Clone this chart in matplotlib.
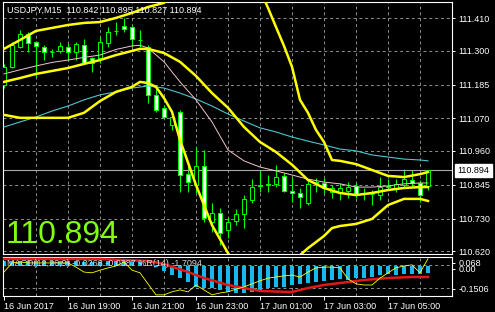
import matplotlib
matplotlib.use('Agg')
import matplotlib.pyplot as plt
import matplotlib.transforms as mtransforms

plt.rcParams['font.family'] = ['Liberation Sans', 'DejaVu Sans']

# ---------------- data ----------------
opens = [111.184, 111.245, 111.313, 111.357, 111.330, 111.313, 111.296, 111.299, 111.313, 111.296,
         111.319, 111.275, 111.275, 111.326, 111.367, 111.384, 111.380, 111.336, 111.313, 111.150,
         111.105, 111.048, 111.092, 110.881, 110.844, 110.909, 110.718, 110.749, 110.691, 110.722,
         110.746, 110.793, 110.842, 110.845, 110.847, 110.875, 110.824, 110.817, 110.783, 110.851,
         110.851, 110.820, 110.817, 110.824, 110.841, 110.812, 110.815, 110.810, 110.839, 110.834,
         110.844, 110.861, 110.851, 110.842]
highs = [111.255, 111.330, 111.370, 111.363, 111.332, 111.319, 111.306, 111.330, 111.326, 111.330,
         111.340, 111.279, 111.347, 111.380, 111.397, 111.411, 111.387, 111.370, 111.319, 111.184,
         111.115, 111.099, 111.099, 110.912, 110.973, 110.963, 110.783, 110.766, 110.735, 110.763,
         110.810, 110.864, 110.895, 110.878, 110.912, 110.885, 110.871, 110.834, 110.861, 110.868,
         110.868, 110.844, 110.851, 110.854, 110.851, 110.834, 110.827, 110.871, 110.864, 110.864,
         110.899, 110.895, 110.861, 110.895]
lows = [111.174, 111.242, 111.309, 111.296, 111.211, 111.268, 111.279, 111.292, 111.268, 111.268,
        111.258, 111.228, 111.258, 111.313, 111.353, 111.363, 111.313, 111.313, 111.122, 111.092,
        111.072, 111.031, 110.820, 110.820, 110.817, 110.718, 110.684, 110.640, 110.664, 110.708,
        110.698, 110.783, 110.820, 110.820, 110.837, 110.820, 110.786, 110.766, 110.776, 110.820,
        110.817, 110.800, 110.793, 110.800, 110.800, 110.793, 110.776, 110.793, 110.827, 110.820,
        110.834, 110.837, 110.786, 110.827]
closes = [111.245, 111.319, 111.357, 111.326, 111.316, 111.296, 111.297, 111.316, 111.296, 111.323,
          111.258, 111.258, 111.330, 111.363, 111.367, 111.374, 111.340, 111.337, 111.150, 111.099,
          111.075, 111.075, 110.878, 110.854, 110.909, 110.732, 110.749, 110.681, 110.718, 110.746,
          110.796, 110.837, 110.845, 110.848, 110.871, 110.824, 110.817, 110.803, 110.847, 110.853,
          110.834, 110.834, 110.834, 110.837, 110.810, 110.815, 110.813, 110.837, 110.841, 110.847,
          110.864, 110.852, 110.810, 110.894]

upper_idx = [0, 2, 4, 6, 8, 10, 12, 14, 16, 18, 20, 22, 24, 26, 28, 30, 32,
             33, 34, 35, 36, 37, 38, 39, 40, 41, 42, 44, 46, 48, 50, 52, 53]
upper_val = [111.306, 111.336, 111.367, 111.377, 111.387, 111.394, 111.397, 111.411, 111.428,
             111.448, 111.462, 111.526, 111.584, 111.605, 111.598, 111.557, 111.506,
             111.445, 111.380, 111.316, 111.245, 111.133, 111.089, 111.031, 110.990, 110.929,
             110.926, 110.915, 110.895, 110.875, 110.871, 110.881, 110.888]

mid_idx = [0, 2, 4, 6, 8, 10, 12, 14, 16, 17, 18, 20, 22, 24, 26, 28, 30, 32, 34, 36,
           38, 40, 42, 44, 46, 48, 50, 52, 53]
mid_val = [111.194, 111.207, 111.221, 111.231, 111.241, 111.255, 111.268, 111.285, 111.299,
           111.306, 111.306, 111.292, 111.262, 111.214, 111.156, 111.106, 111.041, 110.990,
           110.956, 110.913, 110.861, 110.834, 110.817, 110.810, 110.817, 110.827, 110.834,
           110.837, 110.837]

lower_idx = [0, 2, 4, 6, 8, 10, 12, 14, 16, 17, 18, 19, 20, 21, 22, 24, 26, 28, 30, 32, 34,
             36, 37, 38, 40, 41, 42, 44, 46, 48, 50, 52, 53]
lower_val = [111.082, 111.072, 111.072, 111.072, 111.072, 111.089, 111.129, 111.160, 111.177,
             111.194, 111.190, 111.177, 111.139, 111.092, 110.997, 110.844, 110.708, 110.613,
             110.525, 110.474, 110.532, 110.572, 110.606, 110.630, 110.671, 110.698, 110.705,
             110.712, 110.729, 110.776, 110.797, 110.797, 110.790]

slow_idx = [0, 2, 4, 6, 8, 10, 12, 14, 16, 18, 20, 22, 24, 26, 28, 30, 32, 34, 36, 38,
            40, 42, 44, 46, 48, 50, 52, 53]
slow_val = [111.041, 111.058, 111.075, 111.095, 111.112, 111.133, 111.150, 111.160, 111.173,
            111.180, 111.173, 111.156, 111.136, 111.112, 111.085, 111.061, 111.038, 111.024,
            111.007, 110.993, 110.980, 110.966, 110.960, 110.946, 110.939, 110.932, 110.929,
            110.926]

fast_idx = [0, 2, 4, 6, 8, 10, 12, 14, 16, 17, 18, 20, 22, 24, 26, 28, 30, 32, 34, 36,
            38, 40, 42, 44, 46, 48, 50, 52, 53]
fast_val = [111.221, 111.235, 111.248, 111.260, 111.268, 111.277, 111.285, 111.304, 111.316,
            111.318, 111.309, 111.262, 111.194, 111.133, 111.058, 110.963, 110.926, 110.905,
            110.892, 110.878, 110.864, 110.854, 110.848, 110.837, 110.837, 110.841, 110.848,
            110.851, 110.851]

macd_hist = [0.017, 0.018, 0.019, 0.019, 0.018, 0.018, 0.017, 0.017, 0.016, 0.016,
             0.015, 0.014, 0.015, 0.016, 0.017, 0.018, 0.017, 0.013, 0.004, -0.004,
             -0.0175, -0.0315, -0.042, -0.056, -0.0735, -0.077, -0.077, -0.084, -0.091, -0.0945,
             -0.0945, -0.091, -0.084, -0.077, -0.0735, -0.0735, -0.0665, -0.063, -0.0595, -0.056,
             -0.0525, -0.049, -0.0455, -0.049, -0.042, -0.042, -0.0385, -0.0315, -0.028, -0.0315,
             -0.028, -0.028, -0.028, -0.0245]
signal_idx = [0, 12, 18, 20, 23, 25, 28, 30, 32, 36, 38, 40, 43, 45, 48, 51, 53]
signal_val = [0.0245, 0.0245, 0.0175, 0.007, -0.021, -0.042, -0.0665, -0.077, -0.0875, -0.091,
              -0.077, -0.0665, -0.056, -0.049, -0.042, -0.0385, -0.0385]
wpr = [-37, -13, -10.5, -13, -13, -13, -13, -13, -13, -24, -37, -39, -32, -26, -21, -10.5, -32,
       -39, -68, -97, -97, -89, -84, -89, -71, -84, -97, -92, -89, -82, -76, -68, -60, -53, -50,
       -47, -45, -50, -37, -26, -24, -24, -26, -55, -68, -71, -71, -53, -39, -26, -21, -18, -39,
       -1.7094]

price_ticks = [111.410, 111.300, 111.185, 111.070, 110.960, 110.845, 110.730, 110.620]
time_tick_idx = [0, 8, 16, 24, 32, 40, 48]
time_labels = ['16 Jun 2017', '16 Jun 19:00', '16 Jun 21:00', '16 Jun 23:00',
               '17 Jun 01:00', '17 Jun 03:00', '17 Jun 05:00']
grid_idx = [4, 8, 12, 16, 20, 24, 28, 32, 36, 40, 44, 48, 52]
last_price = 110.894
header = 'USDJPY,M15  110.842 110.895 110.827 110.894'
sub_label = 'MACD(12,26,9) -0.0268 -0.0387 %R(14) -1.7094'
sub_tick_vals = [0.0105, -0.0105, -0.0788]
sub_tick_labels = ['0.068', '0.00', '-0.1506']
sub_grid_vals = [0.0035, -0.077]

# ---------------- figure ----------------
W, H = 495, 312
fig = plt.figure(figsize=(W / 100, H / 100), dpi=100, facecolor='black')
FS = 6.5
GRID = '#8f8f8f'
DASH = (0, (3, 3))

ax = fig.add_axes([3 / W, 1 - 254 / H, 449 / W, 252 / H], facecolor='black')
ax2 = fig.add_axes([3 / W, 1 - 296 / H, 449 / W, 39 / H], facecolor='black')
ax3 = ax2.twinx()

for a in (ax, ax2):
    for s in a.spines.values():
        s.set_color('white')
        s.set_linewidth(0.8)
for a in (ax, ax2, ax3):
    a.set_xlim(-0.125, 56)

# main panel
ax.set_ylim(110.610, 111.465)
ax.yaxis.tick_right()
ax.set_yticks(price_ticks)
ax.set_yticklabels(['%.3f' % v for v in price_ticks])
ax.tick_params(axis='y', colors='white', labelsize=FS, length=2.5, width=0.7, pad=2)
ax.set_xticks(grid_idx)
ax.tick_params(axis='x', length=0, labelbottom=False)
ax.grid(True, color=GRID, linestyle=DASH, linewidth=0.7)
ax.set_axisbelow(True)

x = list(range(len(opens)))
ax.vlines(x, lows, highs, color='#00ff00', linewidth=0.8, zorder=2)
for i in x:
    o, c = opens[i], closes[i]
    fill = 'black' if c >= o else 'white'
    ax.bar(i, c - o, bottom=o, width=0.6, color=fill, edgecolor='#00ff00',
           linewidth=0.7, zorder=3)

ax.axhline(last_price, color='#a8a8a8', linewidth=0.8, zorder=2.5)
ax.plot(slow_idx, slow_val, color='#4cc6cf', linewidth=0.8, zorder=4)
ax.plot(fast_idx, fast_val, color='#f2c4cc', linewidth=0.7, zorder=4)
for ix, vals in ((upper_idx, upper_val), (mid_idx, mid_val), (lower_idx, lower_val)):
    ax.plot(ix, vals, color='#ffff00', linewidth=1.8, zorder=5, solid_joinstyle='round')

trans = mtransforms.blended_transform_factory(ax.transAxes, ax.transData)
ax.text(1.012, last_price, '%.3f' % last_price, transform=trans, ha='left', va='center',
        color='black', fontsize=FS, clip_on=False, zorder=10,
        bbox=dict(facecolor='white', edgecolor='white', boxstyle='square,pad=0.25'))

# sub panel
ax2.set_ylim(-0.105, 0.0315)
ax2.set_xticks(time_tick_idx)
ax2.set_xticklabels(time_labels)
for lab in ax2.get_xticklabels():
    lab.set_ha('left')
ax2.tick_params(axis='x', colors='white', labelsize=FS, length=3, width=0.7, pad=1.5)
ax2.set_xticks(grid_idx, minor=True)
ax2.tick_params(axis='x', which='minor', length=0)
ax2.grid(True, which='minor', axis='x', color=GRID, linestyle=DASH, linewidth=0.7)
ax2.set_yticks([])
for v in sub_grid_vals:
    ax2.axhline(v, color=GRID, linestyle=DASH, linewidth=0.7, zorder=0.5)

ax2.bar(x, macd_hist, width=0.6, color='#16b9ee', zorder=2)
ax2.plot(signal_idx, signal_val, color='#e01818', linewidth=1.8, zorder=3)

# WPR overlay with its own scale; right-hand labels carried by this twin axis
ax3.set_ylim(-100, 2.63)
for s in ax3.spines.values():
    s.set_visible(False)
ax3.plot(x, wpr, color='#ffff00', linewidth=0.6, zorder=3)
sub_ax = ax3.secondary_yaxis('right', functions=(lambda w: (w - 2.63) / 102.63 * 0.1365 + 0.0315,
                                                 lambda m: (m - 0.0315) / 0.1365 * 102.63 + 2.63))
ax3.set_yticks([])
sub_ax.set_yticks(sub_tick_vals)
sub_ax.set_yticklabels(sub_tick_labels)
sub_ax.tick_params(axis='y', colors='white', labelsize=FS, length=2.5, width=0.7, pad=2)
sub_ax.spines['right'].set_visible(False)

fig.text(7 / W, 1 - 264 / H, sub_label, color='#d8d8d8', fontsize=FS, va='center', zorder=20)
fig.text(7 / W, 1 - 10 / H, header, color='white', fontsize=FS, va='center')
fig.text(6 / W, 1 - 243 / H, '%.3f' % last_price, color='#80ff10', fontsize=23,
         va='baseline', ha='left')

fig.savefig('out.png', dpi=100, facecolor='black')
